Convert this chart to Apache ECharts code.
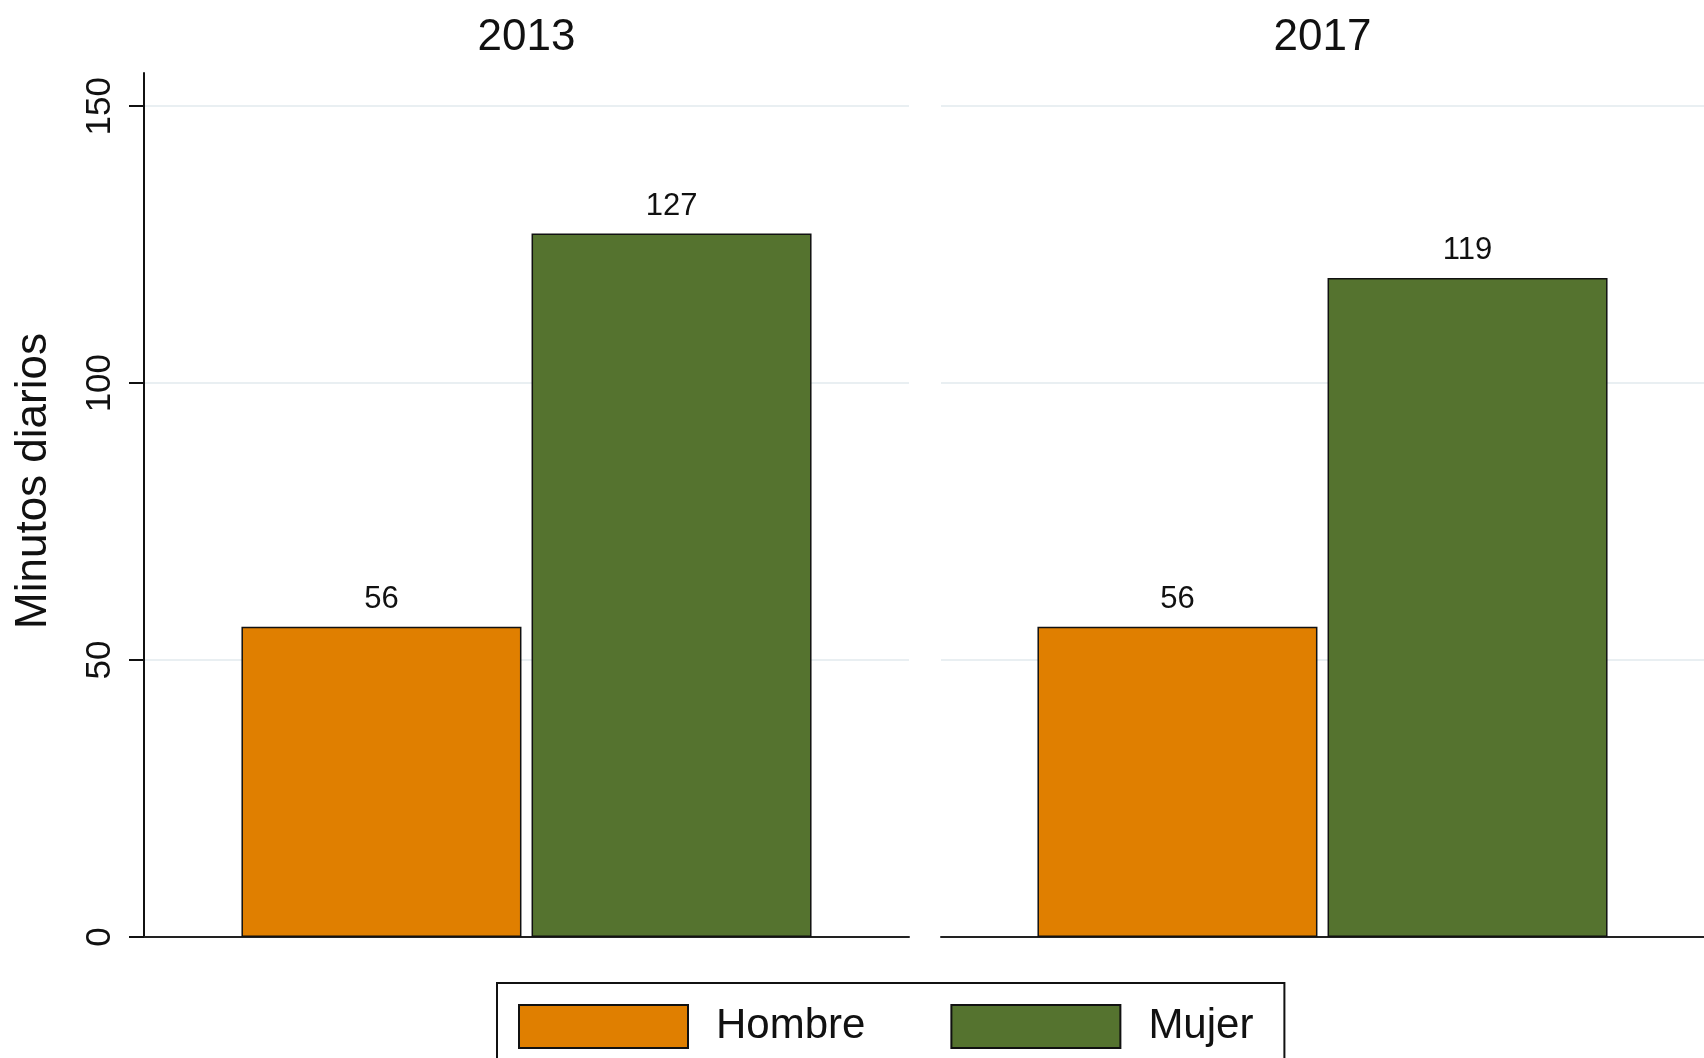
<!DOCTYPE html>
<html>
<head>
<meta charset="utf-8">
<script src="https://cdn.jsdelivr.net/npm/echarts@6/dist/echarts.min.js"></script>
<style>
  html, body { margin: 0; padding: 0; background: #fff; }
  #main { width: 1704px; height: 1058px; }
</style>
</head>
<body>
<div id="main"></div>
<script>
// data
var years = ['2013', '2017'];
var sexes = ['Hombre', 'Mujer'];
var hombre = [56, 56];
var mujer = [127, 119];
var yTicks = [0, 50, 100, 150];

var font = 'Liberation Sans, Arial, sans-serif';
var colors = { Hombre: '#e07f00', Mujer: '#55732f' };

// panel layout (px)
var panels = [
  { left: 144, width: 765 },
  { left: 941, width: 763 }
];
var gridTop = 73;
var gridHeight = 864;

var grids = [], xAxes = [], yAxes = [], series = [], titles = [];

panels.forEach(function (p, i) {
  grids.push({ left: p.left, top: gridTop, width: p.width, height: gridHeight, containLabel: false });
  titles.push({
    text: years[i],
    left: p.left + p.width / 2 - 5,
    textAlign: 'center',
    top: 11,
    textStyle: { fontFamily: font, fontSize: 44, fontWeight: 'normal', color: '#111' }
  });
  xAxes.push({
    type: 'category',
    gridIndex: i,
    data: [years[i]],
    axisLine: { show: true, onZero: false, lineStyle: { color: '#222', width: 2 } },
    axisTick: { show: false },
    axisLabel: { show: false }
  });
  yAxes.push({
    type: 'value',
    gridIndex: i,
    min: 0,
    max: 156,
    interval: 50,
    name: i === 0 ? 'Minutos diarios' : '',
    nameLocation: 'middle',
    nameGap: 88,
    nameTextStyle: { fontFamily: font, fontSize: 44, color: '#111', padding: [0, 0, 0, 48] },
    axisLine: { show: i === 0, lineStyle: { color: '#111', width: 2 } },
    axisTick: { show: i === 0, customValues: yTicks, length: 15, lineStyle: { color: '#111', width: 2 } },
    axisLabel: {
      show: i === 0,
      customValues: yTicks,
      rotate: 90,
      margin: 26,
      fontFamily: font,
      fontSize: 35,
      color: '#111'
    },
    splitLine: { show: true, lineStyle: { color: '#e9eff2', width: 2 } }
  });
  [hombre, mujer].forEach(function (vals, k) {
    series.push({
      name: sexes[k],
      type: 'bar',
      xAxisIndex: i,
      yAxisIndex: i,
      data: [vals[i]],
      barWidth: 280,
      barGap: '3.6%',
      itemStyle: { color: colors[sexes[k]], borderColor: '#111', borderWidth: 1.5 },
      label: {
        show: true,
        position: 'top',
        distance: 12,
        fontFamily: font,
        fontSize: 31,
        color: '#111'
      }
    });
  });
});

var option = {
  backgroundColor: '#fff',
  animation: false,
  title: titles,
  legend: {
    data: sexes,
    left: 497,
    top: 983,
    padding: [21, 31, 18, 21],
    itemGap: 85,
    itemWidth: 169,
    itemHeight: 43,
    icon: 'rect',
    borderColor: '#111',
    borderWidth: 2,
    itemStyle: { borderColor: '#111', borderWidth: 2 },
    textStyle: { fontFamily: font, fontSize: 42, color: '#111', padding: [0, 0, 0, 23] }
  },
  grid: grids,
  xAxis: xAxes,
  yAxis: yAxes,
  series: series
};

var myChart = echarts.init(document.getElementById('main'));
myChart.setOption(option);
</script>
</body>
</html>
